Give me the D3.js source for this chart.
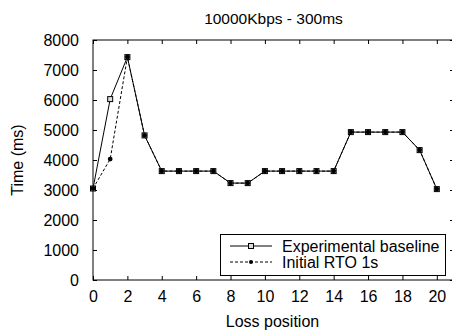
<!DOCTYPE html>
<html>
<head>
<meta charset="utf-8">
<script src="https://cdn.jsdelivr.net/npm/d3@7"></script>
<style>
  body { margin: 0; background: #fff; }
  text { font-family: "Liberation Sans", Arial, sans-serif; fill: #000; }
</style>
</head>
<body>
<div class="chart"></div>
<script>
// loss positions 0..20
var positions = d3.range(0, 21);
// experimental baseline (ms)
var baseline = [3050, 6030, 7430, 4820, 3630, 3630, 3630, 3630, 3230, 3230, 3630,
  3630, 3630, 3630, 3630, 4930, 4930, 4930, 4930, 4330, 3030];
// initial RTO 1s (ms)
var rto1s = [3050, 4030, 7430, 4820, 3630, 3630, 3630, 3630, 3230, 3230, 3630,
  3630, 3630, 3630, 3630, 4930, 4930, 4930, 4930, 4330, 3030];
var xTicks = d3.range(0, 21, 2);
var yTicks = d3.range(0, 8001, 1000);

var W = 452, H = 335;
var margin = { top: 40, right: -2, bottom: 55, left: 93 };
var width = W - margin.left - margin.right;
var height = H - margin.top - margin.bottom;

var svg = d3.select(".chart").append("svg")
  .attr("width", W).attr("height", H);
var g = svg.append("g")
  .attr("transform", "translate(" + margin.left + "," + margin.top + ")");

var x = d3.scaleLinear().domain([0, 21]).range([0, width]);
var y = d3.scaleLinear().domain([0, 8000]).range([height, 0]);

// frame
g.append("rect").attr("x", 0).attr("y", 0)
  .attr("width", width).attr("height", height)
  .attr("fill", "none").attr("stroke", "#000").attr("stroke-width", 1);

// axes, ticks pointing inward
var fs = "16px";
var xAxisB = g.append("g").attr("transform", "translate(0," + height + ")")
  .call(d3.axisBottom(x).tickValues(xTicks).tickSizeInner(-4).tickSizeOuter(0).tickPadding(10));
var xAxisT = g.append("g")
  .call(d3.axisTop(x).tickValues(xTicks).tickSizeInner(-4).tickSizeOuter(0).tickFormat(""));
var yAxisL = g.append("g")
  .call(d3.axisLeft(y).tickValues(yTicks).tickSizeInner(-4).tickSizeOuter(0)
    .tickPadding(14).tickFormat(d3.format("d")));
var yAxisR = g.append("g").attr("transform", "translate(" + width + ",0)")
  .call(d3.axisRight(y).tickValues(yTicks).tickSizeInner(-4).tickSizeOuter(0).tickFormat(""));
[xAxisB, xAxisT, yAxisL, yAxisR].forEach(function (a) {
  a.select(".domain").remove();
  a.selectAll("line").attr("stroke", "#000");
  a.selectAll("text").style("font-size", fs).style("font-family", "Liberation Sans, Arial, sans-serif");
});
xAxisB.selectAll("text").attr("dy", "0.71em").attr("y", 11);

// labels
svg.append("text").attr("x", margin.left + width / 2).attr("y", 24)
  .attr("text-anchor", "middle").style("font-size", "15.5px").text("10000Kbps - 300ms");
svg.append("text").attr("x", margin.left + width / 2 - 1).attr("y", 327)
  .attr("text-anchor", "middle").style("font-size", fs).text("Loss position");
svg.append("text")
  .attr("transform", "translate(23," + (margin.top + height / 2) + ") rotate(-90)")
  .attr("text-anchor", "middle").style("font-size", fs).text("Time (ms)");

// lines
var line = d3.line().x(function (d, i) { return x(positions[i]); })
  .y(function (d) { return y(d); });

g.append("path").datum(rto1s).attr("d", line)
  .attr("fill", "none").attr("stroke", "#000").attr("stroke-width", 1)
  .attr("stroke-dasharray", "3,2");
g.append("path").datum(baseline).attr("d", line)
  .attr("fill", "none").attr("stroke", "#000").attr("stroke-width", 1);

// markers
var sq = 5;
g.selectAll(".sq").data(baseline).enter().append("rect")
  .attr("x", function (d, i) { return x(positions[i]) - sq / 2; })
  .attr("y", function (d) { return y(d) - sq / 2; })
  .attr("width", sq).attr("height", sq)
  .attr("fill", "#ddd").attr("stroke", "#000").attr("stroke-width", 1);
g.selectAll(".dot").data(rto1s).enter().append("circle")
  .attr("cx", function (d, i) { return x(positions[i]); })
  .attr("cy", function (d) { return y(d); })
  .attr("r", 2.4).attr("fill", "#000");

// legend
var lg = svg.append("g");
lg.append("rect").attr("x", 220.5).attr("y", 234.5).attr("width", 225).attr("height", 41)
  .attr("fill", "#fff").attr("stroke", "#000").attr("stroke-width", 1);
var items = [
  { name: "Experimental baseline", dash: null, mark: "sq" },
  { name: "Initial RTO 1s", dash: "3,2", mark: "dot" }
];
items.forEach(function (it, i) {
  var yy = 246 + i * 16;
  lg.append("line").attr("x1", 230).attr("x2", 272).attr("y1", yy).attr("y2", yy)
    .attr("stroke", "#000").attr("stroke-width", 1)
    .attr("stroke-dasharray", it.dash);
  if (it.mark === "sq") {
    lg.append("rect").attr("x", 251 - sq / 2).attr("y", yy - sq / 2)
      .attr("width", sq).attr("height", sq)
      .attr("fill", "#ddd").attr("stroke", "#000");
  } else {
    lg.append("circle").attr("cx", 251).attr("cy", yy).attr("r", 2).attr("fill", "#000");
  }
  lg.append("text").attr("x", 282).attr("y", yy + 5.5)
    .style("font-size", fs).text(it.name);
});
</script>
</body>
</html>
